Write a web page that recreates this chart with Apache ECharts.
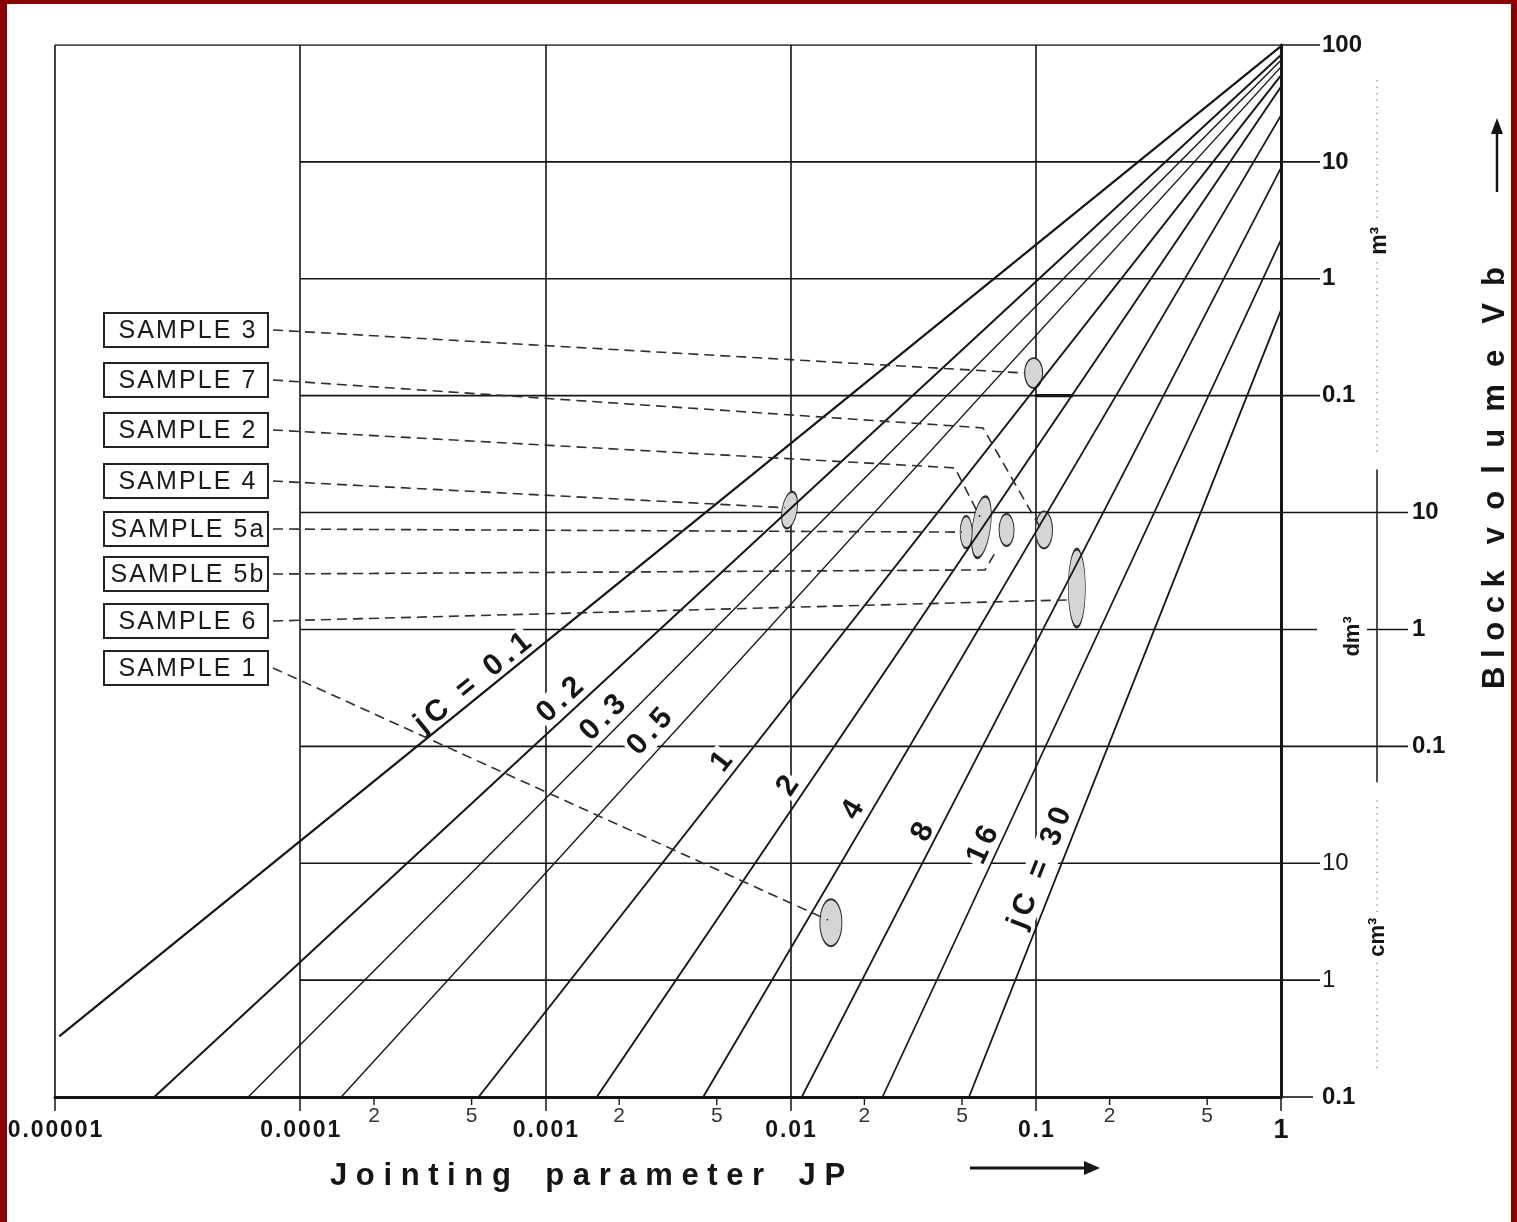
<!DOCTYPE html>
<html>
<head>
<meta charset="utf-8">
<script src="https://cdn.jsdelivr.net/npm/echarts@6/dist/echarts.min.js"></script>
<style>
html,body{margin:0;padding:0;background:#fff;}
#chart{position:absolute;left:0;top:0;width:1517px;height:1222px;background:#fff;}
#frame{position:absolute;left:0;top:0;width:1517px;height:1222px;box-sizing:border-box;border-left:7px solid #8a0000;border-top:4px solid #8a0000;border-right:6px solid #8a0000;pointer-events:none;}
</style>
</head>
<body>
<div id="chart"></div>
<div id="frame"></div>
<script>
// ---------------- DATA ----------------
// x axis: jointing parameter JP
const jpMajorTicks = [1e-5, 1e-4, 1e-3, 1e-2, 1e-1, 1];
const jpMajorLabels = ['0.00001', '0.0001', '0.001', '0.01', '0.1', '1'];
const jpMinorTicks = [2e-4, 5e-4, 2e-3, 5e-3, 2e-2, 5e-2, 0.2, 0.5];
const jpMinorLabels = ['2', '5', '2', '5', '2', '5', '2', '5'];

// y axis: block volume Vb (in m³)
const vbTicks = [100, 10, 1, 0.1, 0.01, 0.001, 1e-4, 1e-5, 1e-6, 1e-7];
const vbTickLabels = ['100', '10', '1', '0.1', '10', '1', '0.1', '10', '1', '0.1'];
const vbTickUnits = ['m³', 'm³', 'm³', 'm³', 'dm³', 'dm³', 'dm³', 'cm³', 'cm³', 'cm³'];

// horizontal reference lines (Vb) and the JP where they start
const gridLineVb = [100, 10, 1, 0.1, 0.01, 0.001, 1e-4, 1e-5, 1e-6];
const gridLineFromJP = [1e-5, 1e-4, 1e-4, 1e-4, 1e-4, 1e-4, 1e-4, 1e-4, 1e-4];

// jC curves: two end points each (JP, Vb)
const jcNames = ['jC = 0.1', '0.2', '0.3', '0.5', '1', '2', '4', '8', '16', 'jC = 30'];
const jcTopJP = [1, 1, 1, 1, 1, 1, 1, 1, 1, 1];
const jcTopVb = [98, 82, 74, 65, 55, 44, 25, 8.9, 2.15, 0.54];
const jcBottomJP = [1.04e-5, 2.54e-5, 6.14e-5, 1.47e-4, 5.34e-4, 1.62e-3, 4.4e-3, 0.0111, 0.0237, 0.0534];
const jcBottomVb = [3.3e-7, 1e-7, 1e-7, 1e-7, 1e-7, 1e-7, 1e-7, 1e-7, 1e-7, 1e-7];
// where each curve label sits (JP, Vb)
const jcLabelJP = [5.07e-4, 1.15e-3, 1.72e-3, 2.67e-3, 5.25e-3, 9.76e-3, 0.018, 0.0347, 0.0609, 0.104];
const jcLabelVb = [3.49e-4, 2.49e-4, 1.75e-4, 1.33e-4, 7.36e-5, 4.58e-5, 2.86e-5, 1.85e-5, 1.43e-5, 9.1e-6];

// samples (ellipse centres)
const sampleNames = ['SAMPLE 3', 'SAMPLE 7', 'SAMPLE 2', 'SAMPLE 4', 'SAMPLE 5a', 'SAMPLE 5b', 'SAMPLE 6', 'SAMPLE 1'];
const sampleJP = [0.098, 0.108, 0.060, 0.0099, 0.052, 0.076, 0.147, 0.0146];
const sampleVb = [0.156, 0.0071, 0.0075, 0.0105, 0.0068, 0.0071, 0.00226, 3.1e-6];
// leader line bend points (null = straight) and end points
const leaderBendJP = [null, 0.0609, 0.0468, null, null, 0.062, null, null];
const leaderBendVb = [null, 0.053, 0.0241, null, null, 0.00323, null, null];
const leaderEndJP = [0.0905, 0.104, 0.0592, 0.0095, 0.050, 0.0682, 0.1375, 0.0142];
const leaderEndVb = [0.156, 0.0075, 0.00917, 0.011, 0.0068, 0.00451, 0.00179, 3.27e-6];
// range marker on the 0.1 m³ line
const markerJP = [0.1, 0.142];
const markerVb = [0.1, 0.1];

// ---------------- STYLE / LAYOUT ----------------
const FONT = '"Liberation Sans", Arial, Helvetica, sans-serif';
const INK = '#151515';
const jcWidths = [2.2, 2.0, 1.4, 1.4, 1.9, 1.9, 1.8, 1.7, 1.7, 1.8];
const ellipseSize = [[18, 30], [17, 37], [18, 62], [15, 37], [12, 32], [15, 32], [17, 78], [22, 47]];
const ellipseRot = [0, 0, -8, -10, 0, 0, 0, 0];
const boxLeft = 104, boxWidth = 164, boxHeight = 34;
const boxTop = [313, 363, 413, 464, 512, 557, 604, 651];
const HAIR = '\u200A';

function spaced(s, gap) { return Array.from(s).join(gap); }

const chart = echarts.init(document.getElementById('chart'), null, {renderer: 'canvas'});

const series = [];
gridLineVb.forEach((v, i) => {
  series.push({
    type: 'line', data: [[gridLineFromJP[i], v], [1, v]], symbol: 'none', silent: true,
    z: 2, animation: false, lineStyle: {color: INK, width: 1.6}
  });
});
jcNames.forEach((n, i) => {
  series.push({
    type: 'line', data: [[jcTopJP[i], jcTopVb[i]], [jcBottomJP[i], jcBottomVb[i]]],
    symbol: 'none', silent: true, z: 5, animation: false,
    lineStyle: {color: INK, width: jcWidths[i]}
  });
});
series.push({
  type: 'line', data: [[markerJP[0], markerVb[0]], [markerJP[1], markerVb[1]]], symbol: 'none',
  silent: true, z: 5, animation: false, lineStyle: {color: INK, width: 3.2}
});
series.push({
  type: 'scatter', z: 4, silent: true, animation: false, symbol: 'circle',
  data: sampleNames.map((n, i) => ({value: [sampleJP[i], sampleVb[i]], symbolSize: ellipseSize[i], symbolRotate: ellipseRot[i]})),
  itemStyle: {color: '#d5d5d5', borderColor: '#2e2e2e', borderWidth: 1.4, opacity: 1}
});

chart.setOption({
  animation: false,
  backgroundColor: '#fff',
  grid: {left: 55, right: 236, top: 45, bottom: 125, outerBoundsMode: 'none', containLabel: false},
  xAxis: {
    type: 'log', logBase: 10, min: 1e-5, max: 1,
    axisLine: {show: true, onZero: false, lineStyle: {color: INK, width: 3}},
    axisTick: {show: true, length: 14, lineStyle: {color: INK, width: 1.5}},
    axisLabel: {show: false},
    splitLine: {show: true, lineStyle: {color: INK, width: 1.6}},
    minorTick: {show: false}, minorSplitLine: {show: false}
  },
  yAxis: {
    type: 'log', logBase: 10, min: 1e-7, max: 100, position: 'right',
    axisLine: {show: true, lineStyle: {color: INK, width: 3}},
    axisTick: {show: false}, axisLabel: {show: false},
    splitLine: {show: false}
  },
  series: series
});

function px(jp, vb) { return chart.convertToPixel({gridIndex: 0}, [jp, vb]); }
function T(str, x, y, font, o) {
  o = o || {};
  const st = {
    text: str, font: font, fill: o.fill || INK,
    align: o.align || 'center', verticalAlign: o.va || 'middle',
    textAlign: o.align || 'center', textVerticalAlign: o.va || 'middle'
  };
  if (o.bg) { st.backgroundColor = o.bg; st.padding = o.pad || [0, 1]; }
  return {type: 'text', x: x, y: y, rotation: o.rot || 0, silent: true, z: (o.z != null ? o.z : 7), style: st};
}
function L(x1, y1, x2, y2, w, o) {
  o = o || {};
  const st = {stroke: o.color || INK, lineWidth: w || 1.5};
  if (o.dash) st.lineDash = o.dash;
  return {type: 'line', silent: true, z: (o.z != null ? o.z : 6), shape: {x1: x1, y1: y1, x2: x2, y2: y2}, style: st};
}

const G = [];
const xR = px(1, 1)[0];
const yB = px(1, 1e-7)[1];

// right side ticks and labels
vbTicks.forEach((v, i) => {
  const y = px(1, v)[1];
  const u = vbTickUnits[i];
  const lab = vbTickLabels[i];
  if (u === 'dm³') {
    if (lab === '1') {
      G.push(L(xR, y, xR + 36, y, 1.6));
      G.push(L(xR + 86, y, xR + 127, y, 1.6));
    } else {
      G.push(L(xR, y, xR + 127, y, 1.6));
    }
    G.push(T(lab, xR + 131, y, 'bold 24px ' + FONT, {align: 'left'}));
  } else {
    const len = (i === vbTicks.length - 1) ? 32 : 39;
    G.push(L(xR, y, xR + len, y, 1.6));
    const bold = (u === 'cm³' && lab !== '0.1') ? '' : 'bold ';
    G.push(T(lab, xR + 41, y, bold + '24px ' + FONT, {align: 'left'}));
  }
});

// unit side lines
const xU = xR + 96;
G.push(L(xU, px(1, 100)[1] + 35, xU, px(1, 0.1)[1] + 59, 1.2, {color: '#8a8a8a', dash: [1.5, 5]}));
G.push(L(xU, px(1, 0.01)[1] - 43, xU, px(1, 1e-4)[1] + 36, 1.5));
G.push(L(xU, px(1, 1e-4)[1] + 54, xU, yB - 25, 1.2, {color: '#8a8a8a', dash: [1.5, 5]}));
G.push(T('m³', xU + 3, px(1, 1)[1] - 38, 'bold 23px ' + FONT, {rot: Math.PI / 2, bg: '#fff', pad: [0, 5]}));
G.push(T('dm³', xU - 24, px(1, 0.001)[1] + 7, 'bold 22px ' + FONT, {rot: Math.PI / 2}));
G.push(T('cm³', xU + 1, px(1, 1e-6)[1] - 43, 'bold 22px ' + FONT, {rot: Math.PI / 2, bg: '#fff', pad: [0, 5]}));

// x axis labels
jpMajorTicks.forEach((v, i) => {
  const x = px(v, 1)[0];
  const f = (i === jpMajorTicks.length - 1) ? 'bold 27px ' : 'bold 23px ';
  G.push(T(spaced(jpMajorLabels[i], HAIR), x, yB + 34, f + FONT));
});
jpMinorTicks.forEach((v, i) => {
  const x = px(v, 1)[0];
  G.push(L(x, yB, x, yB + 8, 1.4));
  G.push(T(jpMinorLabels[i], x, yB + 19, '21px ' + FONT, {fill: '#333'}));
});

// axis titles and arrows
G.push(T('J o i n t i n g    p a r a m e t e r    J P', 330, 1176, 'bold 31px ' + FONT, {align: 'left'}));
G.push(L(970, 1168, 1088, 1168, 3));
G.push({type: 'polygon', silent: true, z: 7, shape: {points: [[1084, 1161], [1100, 1168], [1084, 1175]]}, style: {fill: INK}});
G.push(T('B l o c k   v  o  l  u  m  e   V  b', 1495, 478, 'bold 31px ' + FONT, {rot: Math.PI / 2}));
G.push(L(1497, 192, 1497, 130, 2.5));
G.push({type: 'polygon', silent: true, z: 7, shape: {points: [[1491, 134], [1497, 118], [1503, 134]]}, style: {fill: INK}});

// sample boxes and leader lines
sampleNames.forEach((n, i) => {
  const top = boxTop[i];
  const cy = top + boxHeight / 2;
  G.push({type: 'rect', silent: true, z: 7, shape: {x: boxLeft, y: top, width: boxWidth, height: boxHeight},
    style: {fill: '#fff', stroke: '#222', lineWidth: 2}});
  G.push(T(spaced(n, HAIR), boxLeft + boxWidth / 2 + 1, cy + 1, '25px ' + FONT, {fill: '#1a1a1a'}));
  const pts = [[boxLeft + boxWidth + 5, cy]];
  if (leaderBendJP[i] != null) pts.push(px(leaderBendJP[i], leaderBendVb[i]));
  pts.push(px(leaderEndJP[i], leaderEndVb[i]));
  G.push({type: 'polyline', silent: true, z: 6, shape: {points: pts},
    style: {stroke: '#2e2e2e', lineWidth: 1.6, lineDash: [10, 6], fill: null}});
});

// jC curve labels
jcNames.forEach((n, i) => {
  const p1 = px(jcBottomJP[i], jcBottomVb[i]);
  const p2 = px(jcTopJP[i], jcTopVb[i]);
  const ang = Math.atan2(p1[1] - p2[1], p2[0] - p1[0]);
  const c = px(jcLabelJP[i], jcLabelVb[i]);
  G.push(T(spaced(n, HAIR + HAIR), c[0], c[1], 'bold 30px ' + FONT, {rot: ang, bg: '#fff', pad: [0, 2], z: 3}));
});

chart.setOption({graphic: {elements: G}});
</script>
</body>
</html>
